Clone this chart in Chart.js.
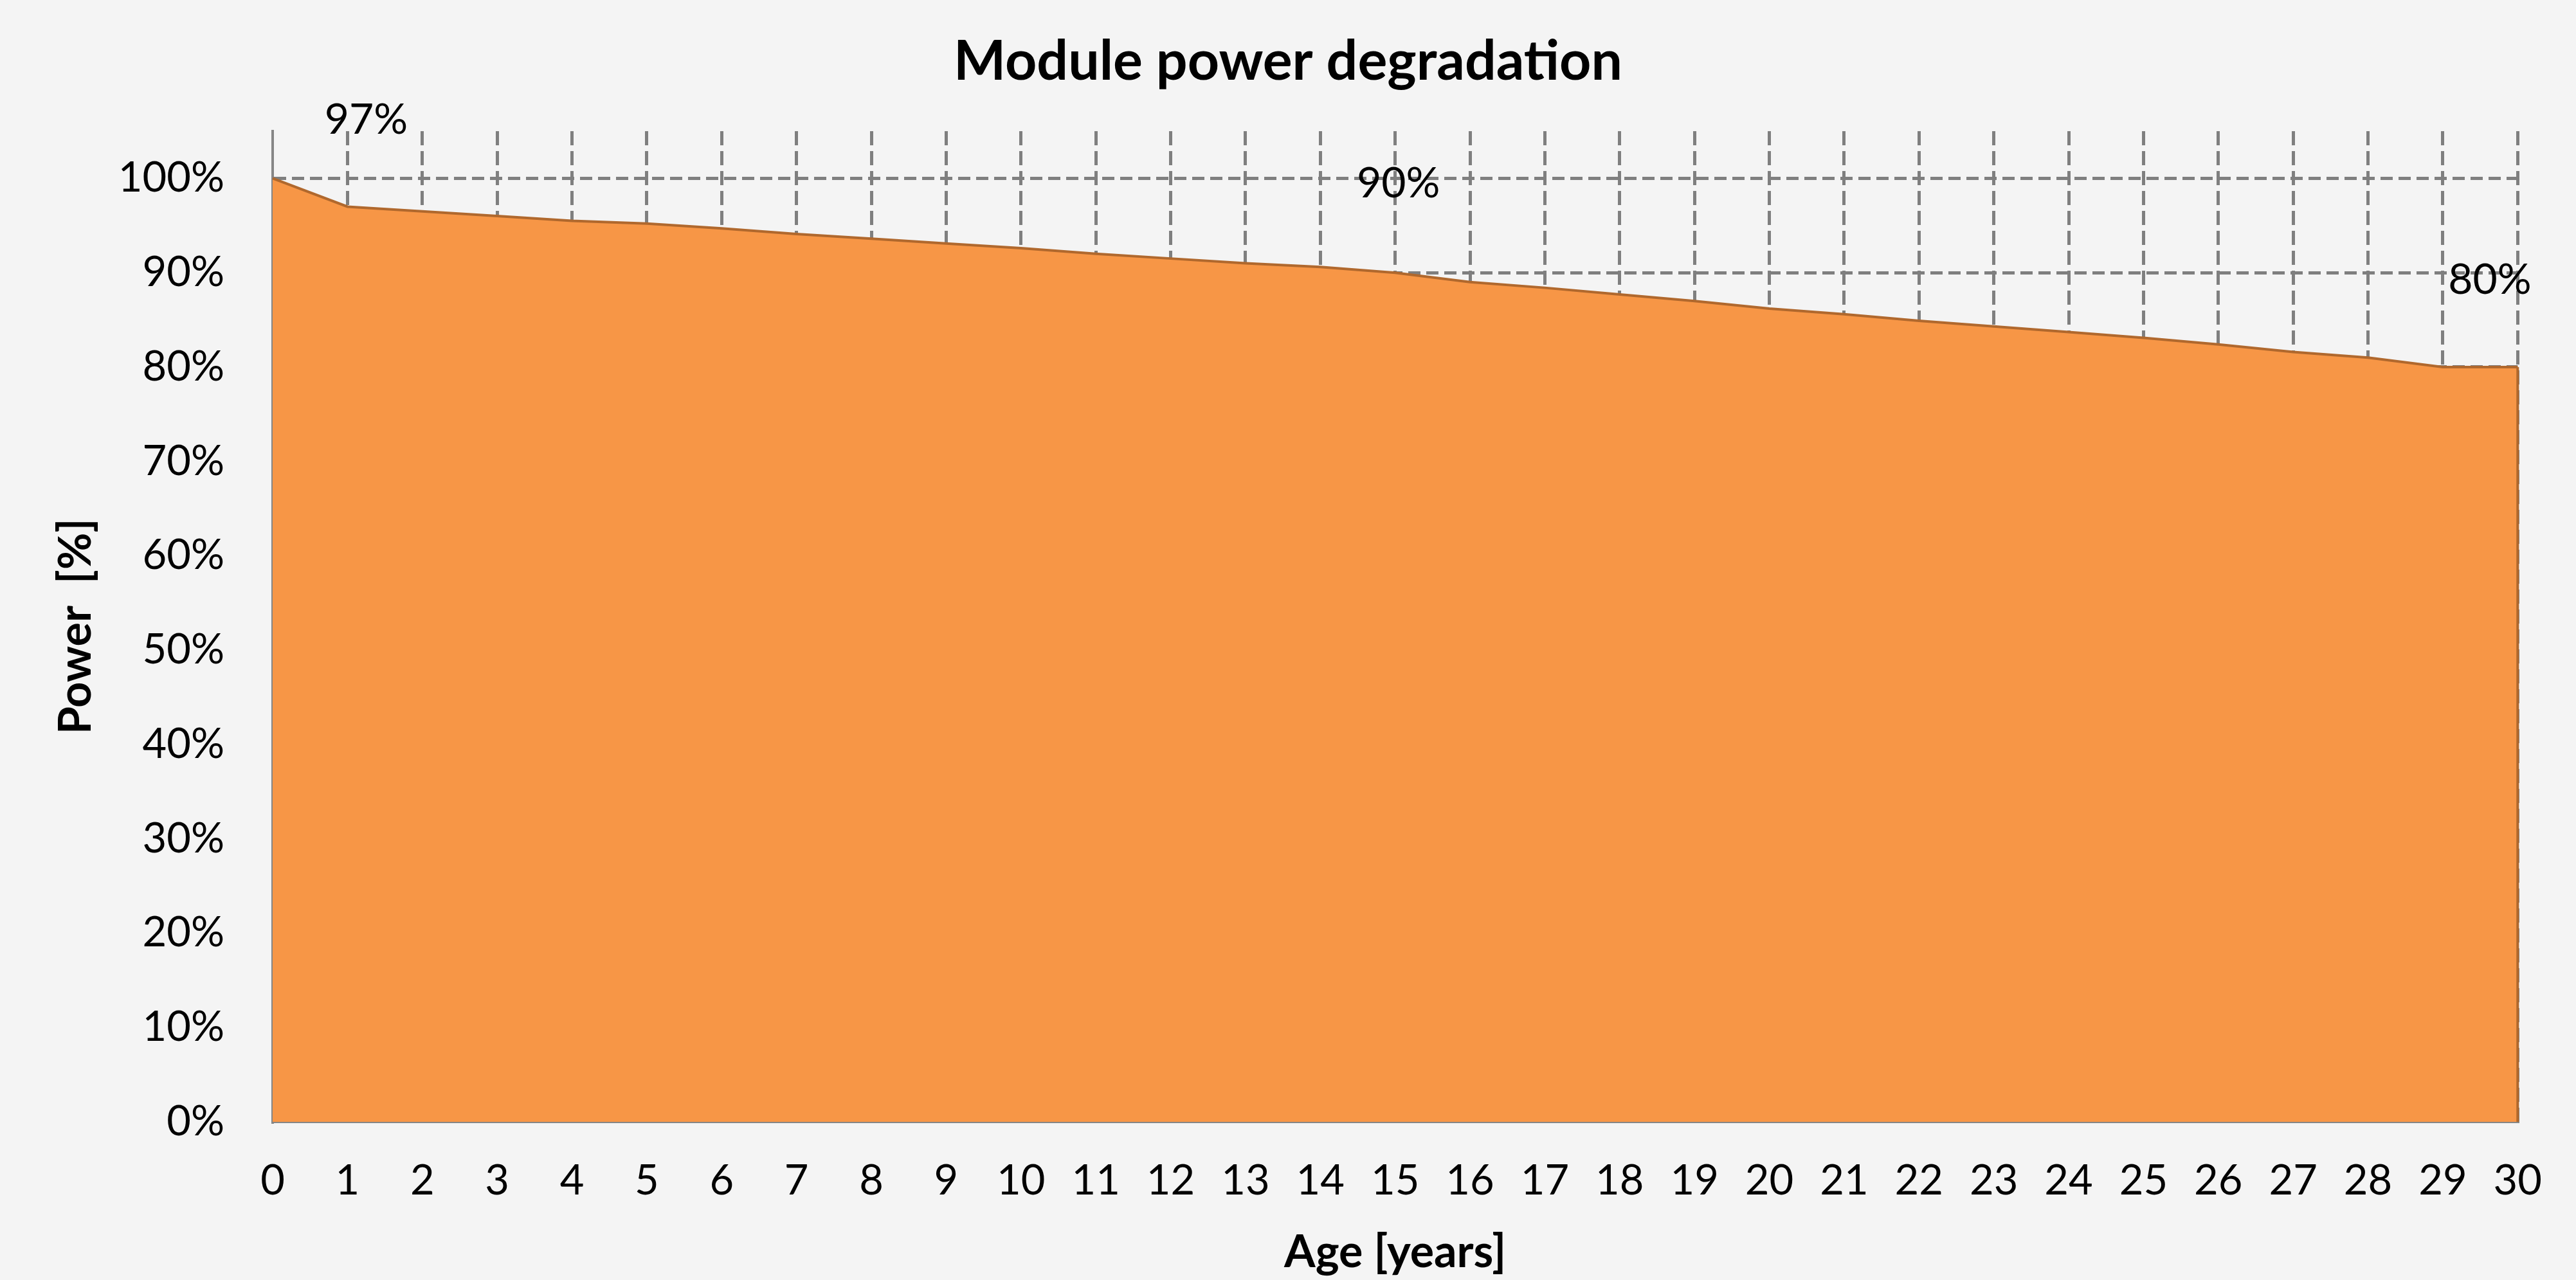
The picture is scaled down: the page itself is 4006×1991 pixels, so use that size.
<!DOCTYPE html>
<html>
<head>
<meta charset="utf-8">
<title>Module power degradation</title>
<script src="https://cdn.jsdelivr.net/npm/chart.js@4.4.1/dist/chart.umd.min.js"></script>
<style>
  html, body { margin: 0; padding: 0; background: #f4f4f4; }
  #wrap { width: 4006px; height: 1991px; }
</style>
</head>
<body>
<div id="wrap"><canvas id="myChart" width="4006" height="1991"></canvas></div>
<script>
// age in years (x axis)
const years = ['0', '1', '2', '3', '4', '5', '6', '7', '8', '9', '10',
    '11', '12', '13', '14', '15', '16', '17', '18', '19', '20',
    '21', '22', '23', '24', '25', '26', '27', '28', '29', '30'];

// remaining module power in %
const power = [100, 97, 96.5, 96, 95.5, 95.2, 94.7, 94.1, 93.6, 93.1, 92.6,
    92.0, 91.5, 91.0, 90.6, 90.0, 89.0, 88.4, 87.7, 87.0, 86.2,
    85.6, 84.9, 84.3, 83.7, 83.1, 82.4, 81.6, 81.0, 80.0, 80.0];

const yTicks = [0, 10, 20, 30, 40, 50, 60, 70, 80, 90, 100];

// the three annotated points
const labelYears = [1, 15, 29];
const labelTexts = ['97%', '90%', '80%'];

const FONT = 'Lato, "Open Sans", sans-serif';
const EDGE = '#b0682d';
const GRID = '#7f7f7f';
Chart.defaults.font.family = FONT;
Chart.defaults.color = '#000';

// no dashed line on top of the solid axis lines
const gridColor = c => (c.tick && c.tick.value === 0) ? 'rgba(0,0,0,0)' : GRID;

// background + chart title
const titlePlugin = {
    id: 'titleAndBg',
    beforeDraw(chart) {
        const ctx = chart.ctx;
        ctx.save();
        ctx.fillStyle = '#f4f4f4';
        ctx.fillRect(0, 0, chart.width, chart.height);
        ctx.fillStyle = '#000';
        ctx.font = 'bold 86px ' + FONT;
        ctx.textAlign = 'center';
        ctx.textBaseline = 'middle';
        ctx.fillText('Module power degradation', chart.width / 2, 96);
        ctx.restore();
    }
};

// value labels, moved up like in the original sheet
const labelOffsets = [[29, -135], [5, -138], [73, -135]];
const valueLabels = {
    id: 'valueLabels',
    afterDatasetsDraw(chart) {
        const ctx = chart.ctx;
        const x = chart.scales.x, y = chart.scales.y;
        const last = power.length - 1;
        ctx.save();
        // closing edge of the area on the right side
        ctx.strokeStyle = EDGE;
        ctx.lineWidth = 4;
        ctx.beginPath();
        ctx.moveTo(x.getPixelForValue(last), y.getPixelForValue(power[last]));
        ctx.lineTo(x.getPixelForValue(last), y.getPixelForValue(0));
        ctx.stroke();

        ctx.font = '66px ' + FONT;
        ctx.fillStyle = '#000';
        ctx.textAlign = 'center';
        ctx.textBaseline = 'middle';
        labelYears.forEach((yr, i) => {
            const px = x.getPixelForValue(yr) + labelOffsets[i][0];
            const py = y.getPixelForValue(power[yr]) + labelOffsets[i][1];
            ctx.fillText(labelTexts[i], px, py);
        });
        ctx.restore();
    }
};

const myChart = new Chart(document.getElementById('myChart'), {
    type: 'line',
    data: {
        labels: years,
        datasets: [{
            data: power,
            fill: 'origin',
            backgroundColor: '#f79646',
            borderColor: EDGE,
            borderWidth: 4,
            pointRadius: 0,
            tension: 0
        }]
    },
    options: {
        responsive: false,
        animation: false,
        layout: { padding: { top: 204, right: 82, left: 0, bottom: 0 } },
        plugins: {
            legend: { display: false },
            tooltip: { enabled: false },
            title: { display: false }
        },
        scales: {
            x: {
                offset: false,
                grid: { color: gridColor, lineWidth: 5, drawTicks: false, offset: false },
                border: { display: true, color: '#868686', width: 4, dash: [22, 9] },
                ticks: { autoSkip: false, maxRotation: 0, padding: 53, font: { size: 65 } },
                title: {
                    display: true,
                    text: 'Age [years]',
                    font: { size: 70, weight: 'bold' },
                    padding: { top: 0, bottom: 1 }
                },
                afterFit(scale) { scale.height = 246; }
            },
            y: {
                min: 0,
                max: 105,
                afterBuildTicks(scale) { scale.ticks = yTicks.map(v => ({ value: v })); },
                grid: { color: gridColor, lineWidth: 5, drawTicks: false },
                border: { display: true, color: '#868686', width: 4, dash: [19, 9] },
                ticks: { padding: 75, font: { size: 65 }, callback: v => v + '%' },
                title: {
                    display: true,
                    text: 'Power  [%]',
                    font: { size: 70, weight: 'bold' },
                    padding: { top: 76, bottom: 0 }
                },
                afterFit(scale) { scale.width = 424; }
            }
        }
    },
    plugins: [titlePlugin, valueLabels]
});
</script>
</body>
</html>
